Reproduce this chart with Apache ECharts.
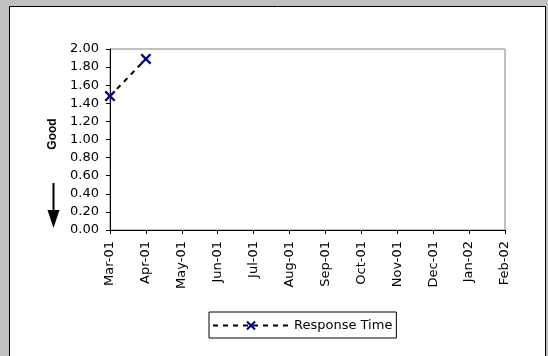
<!DOCTYPE html>
<html><head><meta charset="utf-8">
<script src="https://cdn.jsdelivr.net/npm/echarts@6/dist/echarts.min.js"></script>
<style>html,body{margin:0;padding:0;background:#c0c0c0;}#c{width:548px;height:356px;}</style>
</head><body><div id="c"></div>
<script>
const categories = ['Mar-01','Apr-01','May-01','Jun-01','Jul-01','Aug-01','Sep-01','Oct-01','Nov-01','Dec-01','Jan-02','Feb-02'];
const responseTime = [1.48, 1.89, null, null, null, null, null, null, null, null, null, null];
const seriesName = 'Response Time';
const yMin = 0, yMax = 2, yStep = 0.2;

const xSym = 'path://M0,1.5 L1.5,0 L5,3.5 L8.5,0 L10,1.5 L6.5,5 L10,8.5 L8.5,10 L5,6.5 L1.5,10 L0,8.5 L3.5,5 Z';
const chart = echarts.init(document.getElementById('c'), null, {renderer:'canvas'});
const font = '"DejaVu Sans", Arial, sans-serif';
const boldFont = 'Arial, "Liberation Sans", sans-serif';
chart.setOption({
  backgroundColor: '#c0c0c0',
  animation: false,
  graphic: [
    {type:'rect', z:-10, shape:{x:9.5, y:6.5, width:536, height:360}, style:{fill:'#fff', stroke:'#000', lineWidth:1}},
    {type:'text', x:53, y:134, rotation:Math.PI/2, style:{text:'Good', font:'bold 12px ' + boldFont, fill:'#000', align:'center', verticalAlign:'middle'}},
    {type:'line', shape:{x1:53.5, y1:183, x2:53.5, y2:212}, style:{stroke:'#000', lineWidth:2}},
    {type:'polygon', shape:{points:[[47.5,210],[59.5,210],[53.5,228]]}, style:{fill:'#000'}}
  ],
  grid: {left:110, top:49, right:43, bottom:126, show:true, borderColor:'#808080', borderWidth:1, backgroundColor:'#fff'},
  legend: {
    left:209, top:312, padding:[7,4,6,3], borderColor:'#000', borderWidth:1, backgroundColor:'#fff',
    itemWidth:76, itemHeight:12, itemGap:0,
    textStyle:{fontSize:13, color:'#000', fontFamily:font},
    data:[seriesName]
  },
  xAxis: {
    type:'category', data:categories, boundaryGap:false,
    axisLine:{lineStyle:{color:'#000', width:1}},
    axisTick:{show:true, length:4, lineStyle:{color:'#000'}, interval:0},
    axisLabel:{rotate:90, interval:0, fontSize:13, color:'#000', fontFamily:font, margin:11},
    splitLine:{show:false}
  },
  yAxis: {
    type:'value', min:yMin, max:yMax, interval:yStep,
    axisLine:{show:true, lineStyle:{color:'#000', width:1}},
    axisTick:{show:true, length:4, lineStyle:{color:'#000'}},
    axisLabel:{fontSize:13, color:'#000', fontFamily:font, margin:11, formatter:v=>v.toFixed(2)},
    splitLine:{show:false}
  },
  series: [{
    name:seriesName, type:'line', data:responseTime, connectNulls:false,
    symbol:xSym, symbolSize:11,
    itemStyle:{color:'#000080'},
    lineStyle:{color:'#000', width:2, type:[5,5]}
  }]
});
</script></body></html>
